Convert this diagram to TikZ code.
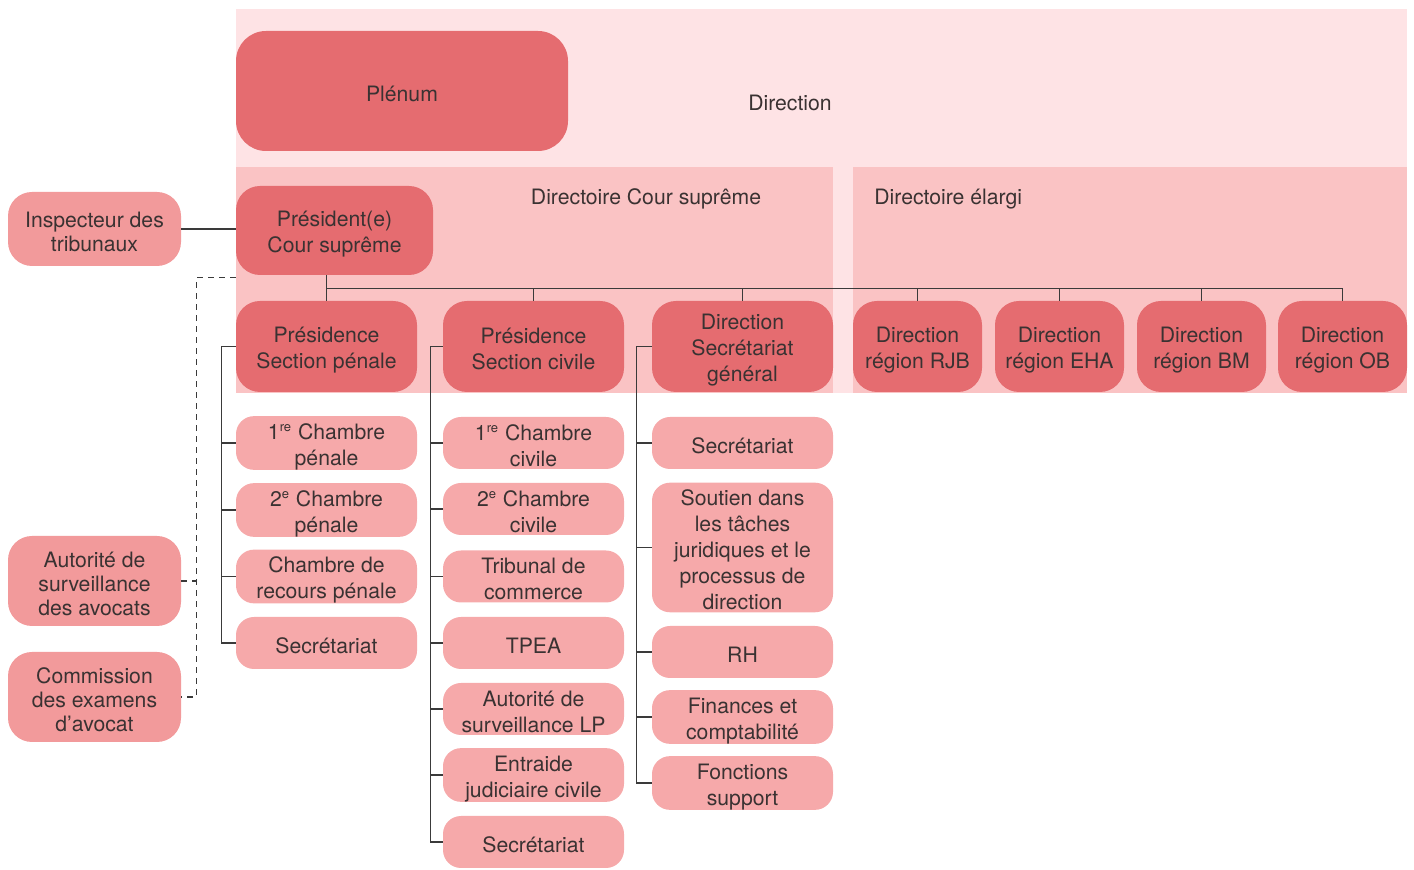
\documentclass[tikz,border=0pt]{standalone}
\usepackage{fontspec}
\setmainfont{TeX Gyre Heros}
\definecolor{dirbg}{HTML}{FEE3E5}
\definecolor{secbg}{HTML}{FAC3C4}
\definecolor{headfill}{HTML}{E56C70}
\definecolor{subfill}{HTML}{F6A9AA}
\definecolor{sidefill}{HTML}{F29A9B}
\definecolor{txtgrey}{HTML}{3A3232}
\definecolor{wiregrey}{HTML}{3A3A3A}
\newcommand{\topstrut}{\rule{0pt}{11.55pt}}
\newcommand{\botstrut}{\rule[-1.25pt]{0pt}{1.25pt}}
\newcommand{\ml}[1]{\topstrut#1\botstrut}
\newcommand{\ordsup}[1]{\textsuperscript{\fontsize{6.5}{6.5}\selectfont #1}}
\tikzset{
  box/.style={rectangle, align=center, inner sep=0pt, text=txtgrey,
    font=\fontsize{10.6}{13}\selectfont},
  head/.style={box, fill=headfill, rounded corners=12pt,
    minimum width=90.5pt, minimum height=45.5pt},
  region/.style={head, minimum width=64.5pt},
  sub/.style={box, fill=subfill, rounded corners=9pt,
    minimum width=90.5pt, minimum height=26pt},
  side/.style={box, fill=sidefill, rounded corners=12pt,
    minimum width=86.5pt, minimum height=45pt,
    font=\fontsize{10.6}{12}\selectfont},
  label/.style={box},
  wire/.style={draw=wiregrey, line width=0.6pt},
  dashwire/.style={wire, dash pattern=on 3pt off 2.5pt},
}
\begin{document}
\begin{tikzpicture}[x=0.5pt, y=-0.5pt]
	\useasboundingbox (0,0) rectangle (1414,870);
	
	% background areas
	\fill[dirbg] (236,9) rectangle (1407,393);
	\fill[secbg] (236,167) rectangle (833,393);
	\fill[secbg] (853,167) rectangle (1407,393);
	
	\node[label] (direction) at (790,100) {\ml{Direction}};
	\node[label] (dircour) at (646,195) {\ml{Directoire Cour suprême}};
	\node[label, anchor=west] (direlargi) at (874,195) {\ml{Directoire élargi}};
	
	% top level
	\node[head, rounded corners=15pt, minimum width=166pt, minimum height=60pt] (plenum) at (402,91) {\ml{Plénum}};
	\node[head, minimum width=98.5pt, minimum height=44.5pt] (pres) at (334.5,230.5) {\ml{Président(e)\\Cour suprême}};
	\node[side, minimum height=37pt] (insp) at (94.5,229) {\ml{Inspecteur des\\tribunaux}};
	\node[side] (aut) at (94.5,581) {\ml{Autorité de\\surveillance\\des avocats}};
	\node[side] (comm) at (94.5,697) {\ml{Commission\\des examens\\d’avocat}};
	
	% second level
	\node[head] (pp) at (326.5,346.5) {\ml{Présidence\\Section pénale}};
	\node[head] (pc) at (533.5,346.5) {\ml{Présidence\\Section civile}};
	\node[head] (sg) at (742.5,346.5) {\ml{Direction\\Secrétariat\\général}};
	\node[region] (rjb) at (917.5,346.5) {\ml{Direction\\région RJB}};
	\node[region] (eha) at (1059.5,346.5) {\ml{Direction\\région EHA}};
	\node[region] (bm) at (1201.5,346.5) {\ml{Direction\\région BM}};
	\node[region] (ob) at (1342.5,346.5) {\ml{Direction\\région OB}};
	
	% section pénale
	\node[sub] (p1) at (326.5,443) {\ml{1\ordsup{re} Chambre\\pénale}};
	\node[sub] (p2) at (326.5,510) {\ml{2\ordsup{e} Chambre\\pénale}};
	\node[sub] (p3) at (326.5,576.5) {\ml{Chambre de\\recours pénale}};
	\node[sub] (p4) at (326.5,643) {\ml{Secrétariat}};
	
	% section civile
	\node[sub] (c1) at (533.5,443) {\ml{1\ordsup{re} Chambre\\civile}};
	\node[sub] (c2) at (533.5,509) {\ml{2\ordsup{e} Chambre\\civile}};
	\node[sub] (c3) at (533.5,576.5) {\ml{Tribunal de\\commerce}};
	\node[sub] (c4) at (533.5,643) {\ml{TPEA}};
	\node[sub] (c5) at (533.5,709) {\ml{Autorité de\\surveillance LP}};
	\node[sub] (c6) at (533.5,775) {\ml{Entraide\\judiciaire civile}};
	\node[sub] (c7) at (533.5,842) {\ml{Secrétariat}};
	
	% secretariat general
	\node[sub] (s1) at (742.5,443) {\ml{Secrétariat}};
	\node[sub, minimum height=64.5pt] (s2) at (742.5,547.5) {\ml{Soutien dans\\les tâches\\juridiques et le\\processus de\\direction}};
	\node[sub] (s3) at (742.5,652) {\ml{RH}};
	\node[sub] (s4) at (742.5,717) {\ml{Finances et\\comptabilité}};
	\node[sub] (s5) at (742.5,783) {\ml{Fonctions\\support}};
	
	% connectors
	\draw[wire] (insp.east) -- (insp.east -| pres.west);
	\draw[wire] (pp.north |- pres.south) -- (pp.north);
	\draw[wire] (pp.north) ++(0,-12) coordinate (bus) -- (bus -| ob.north);
	\foreach \n in {pc,sg,rjb,eha,bm,ob}
		\draw[wire] (\n.north |- bus) -- (\n.north);
	
	\draw[wire] (pp.west) -- ++(-14,0) coordinate (ptrunk) |- (p4.west);
	\foreach \n in {p1,p2,p3}
		\draw[wire] (\n.west) -- (\n.west -| ptrunk);
	\draw[wire] (pc.west) -- ++(-12,0) coordinate (ctrunk) |- (c7.west);
	\foreach \n in {c1,c2,c3,c4,c5,c6}
		\draw[wire] (\n.west) -- (\n.west -| ctrunk);
	\draw[wire] (sg.west) -- ++(-15,0) coordinate (strunk) |- (s5.west);
	\foreach \n in {s1,s2,s3,s4}
		\draw[wire] (\n.west) -- (\n.west -| strunk);
	
	\draw[dashwire] ([yshift=-1pt]pres.south west) -- ++(-39,0) coordinate (dcorner) |- (comm.east);
	\draw[dashwire] (aut.east) -- (aut.east -| dcorner);
\end{tikzpicture}
\end{document}
